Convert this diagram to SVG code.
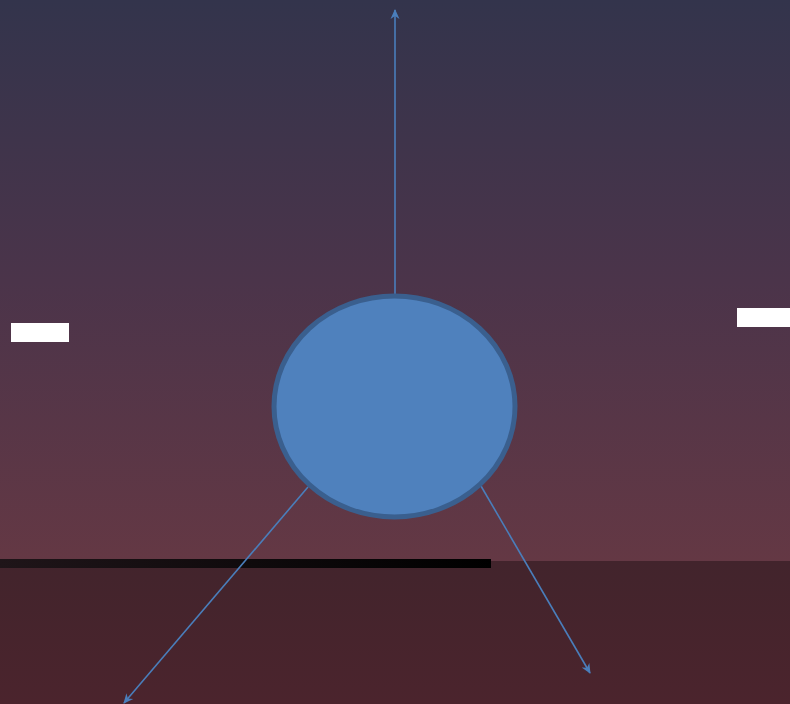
<svg xmlns="http://www.w3.org/2000/svg" width="790" height="704" viewBox="0 0 790 704">
<style>
.conn{stroke:#4a7ebb;stroke-width:1.6;fill:none;marker-end:url(#ah)}
.label{fill:#ffffff}
</style>
<defs>
<linearGradient id="sky" x1="0" y1="0" x2="0" y2="1">
<stop offset="0" stop-color="#33344c"/>
<stop offset="0.5" stop-color="#4b344a"/>
<stop offset="1" stop-color="#643844"/>
</linearGradient>
<linearGradient id="ground" x1="0" y1="0" x2="0" y2="1">
<stop offset="0" stop-color="#42242c"/>
<stop offset="1" stop-color="#4b242d"/>
</linearGradient>
<linearGradient id="bar" x1="0" y1="0" x2="1" y2="0">
<stop offset="0" stop-color="#1f1519"/>
<stop offset="1" stop-color="#000000"/>
</linearGradient>
<marker id="ah" viewBox="0 0 10 10" refX="9" refY="5" markerWidth="10" markerHeight="10" orient="auto" markerUnits="userSpaceOnUse">
<path d="M0,0.5 L10,5 L0,9.5 L3,5 Z" fill="#4a7ebb"/>
</marker>
</defs>
<rect x="0" y="0" width="790" height="562" fill="url(#sky)"/>
<rect x="0" y="561" width="790" height="143" fill="url(#ground)"/>
<rect x="0" y="559" width="491" height="9" fill="url(#bar)"/>
<g id="connectors">
<line class="conn" x1="395" y1="295" x2="395" y2="10"/>
<line class="conn" x1="308" y1="487" x2="124" y2="703"/>
<line class="conn" x1="481" y1="486" x2="590" y2="673"/>
</g>
<g id="node-circle">
<ellipse cx="394.5" cy="406.5" rx="120.5" ry="110.5" fill="#4f81bd" stroke="#3a5f8e" stroke-width="5"/>
</g>
<g id="label-left">
<rect class="label" x="11" y="323" width="58" height="19"/>
</g>
<g id="label-right">
<rect class="label" x="737" y="308" width="53" height="19"/>
</g>
</svg>
